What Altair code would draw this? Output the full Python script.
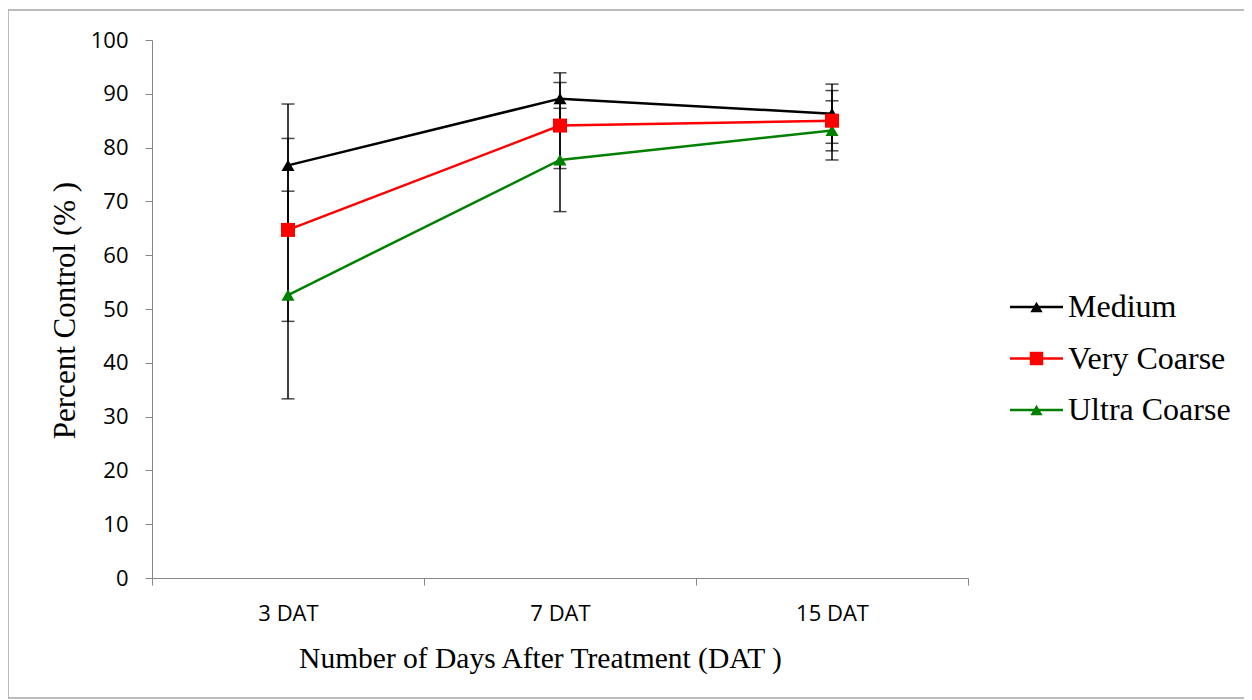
import altair as alt
import pandas as pd

days = ["3 DAT", "7 DAT", "15 DAT"]
series = ["Medium", "Very Coarse", "Ultra Coarse"]
colors = ["#000000", "#ff0000", "#008000"]
medium = [76.7, 89.1, 86.3]
medium_err = [11.4, 4.8, 5.5]
very_coarse = [64.7, 84.1, 85.0]
very_coarse_err = [17.0, 8.0, 5.6]
ultra_coarse = [52.6, 77.7, 83.2]
ultra_coarse_err = [19.3, 9.6, 5.5]

rows = []
for name, vals, errs in [("Medium", medium, medium_err),
                         ("Very Coarse", very_coarse, very_coarse_err),
                         ("Ultra Coarse", ultra_coarse, ultra_coarse_err)]:
    for d, v, e in zip(days, vals, errs):
        rows.append({"day": d, "series": name, "value": v, "lo": v - e, "hi": v + e})
df = pd.DataFrame(rows)
leg_df = pd.DataFrame({"series": series})

W, H = 816, 538
AX = "#868686"
TICKFONT = "Open Sans"
SERIF = "Liberation Serif"

xenc = alt.X("day:N", sort=days, bandPosition=0.5,
             scale=alt.Scale(type="band", paddingInner=0, paddingOuter=0),
             axis=alt.Axis(title="Number of Days After Treatment (DAT )", tickBand="extent",
                           labelAngle=0, domainColor=AX, tickColor=AX, tickSize=7,
                           labelFont=TICKFONT, labelFontSize=22, labelColor="#000",
                           labelPadding=18, titleFont=SERIF, titleFontSize=29.5,
                           titleFontWeight="normal", titleColor="#000",
                           titleX=388, titleY=80, titleBaseline="middle", grid=False))
yscale = alt.Scale(domain=[0, 100], nice=False, zero=True)
yaxis = alt.Axis(title="Percent Control (% )", values=list(range(0, 101, 10)),
                 domainColor=AX, tickColor=AX, tickSize=7, labelFont=TICKFONT,
                 labelFontSize=22, labelColor="#000", labelPadding=17,
                 titleFont=SERIF, titleFontSize=31, titleFontWeight="normal",
                 titleColor="#000", titleX=-87, titleY=270, titleBaseline="middle",
                 grid=False)

cscale = alt.Scale(domain=series, range=colors)
color = alt.Color("series:N", sort=series, scale=cscale, legend=None)
xc = alt.X("day:N", sort=days, bandPosition=0.5)


def yq(field):
    return alt.Y(field, type="quantitative", scale=yscale, axis=None)


base = alt.Chart(df)

err_rule = base.mark_rule(color="black", strokeWidth=1.5).encode(
    x=xenc, y=alt.Y("lo:Q", scale=yscale, axis=yaxis), y2="hi:Q")
cap_lo = base.mark_tick(color="black", thickness=1.5, size=13, orient="horizontal").encode(
    x=xc, y=yq("lo"))
cap_hi = base.mark_tick(color="black", thickness=1.5, size=13, orient="horizontal").encode(
    x=xc, y=yq("hi"))

lines = base.mark_line(strokeWidth=2.5).encode(
    x=xc, y=yq("value"), color=color, detail="series:N")

tri_points = base.transform_filter(alt.datum.series != "Very Coarse").mark_point(
    filled=True, opacity=1, size=170, shape="triangle-up").encode(
    x=xc, y=yq("value"), color=color)
sq_points = base.transform_filter(alt.datum.series == "Very Coarse").mark_point(
    filled=True, opacity=1, size=196, shape="square").encode(
    x=xc, y=yq("value"), color=color)

# legend (right of the plot), rows placed by a point scale over the series
leg_y = alt.Y("series:N", sort=series, axis=None,
              scale=alt.Scale(type="point", domain=series, range=[267, 370], padding=0))
lbase = alt.Chart(leg_df)
leg_line = lbase.mark_rule(strokeWidth=2.5).encode(
    x=alt.value(858), x2=alt.value(911), y=leg_y, color=color)
leg_tri = lbase.transform_filter(alt.datum.series != "Very Coarse").mark_point(
    filled=True, opacity=1, size=150, shape="triangle-up").encode(
    x=alt.value(884.5), y=leg_y, color=color)
leg_sq = lbase.transform_filter(alt.datum.series == "Very Coarse").mark_point(
    filled=True, opacity=1, size=180, shape="square").encode(
    x=alt.value(884.5), y=leg_y, color=color)
leg_text = lbase.mark_text(align="left", baseline="middle", font=SERIF, fontSize=32,
                           color="#000").encode(
    x=alt.value(916), y=leg_y, text="series:N")

frame = alt.Chart(pd.DataFrame({"k": [0]})).mark_rect(
    fill="transparent", stroke="#a6a6a6", strokeWidth=1.5).encode(
    x=alt.value(-144), x2=alt.value(1098), y=alt.value(-30), y2=alt.value(658))

chart = alt.layer(frame, err_rule, cap_lo, cap_hi, lines, tri_points, sq_points,
                  leg_line, leg_tri, leg_sq, leg_text).resolve_scale(
    y="independent"
).properties(
    width=W, height=H,
    background="white",
    view=alt.ViewBackground(stroke="transparent", strokeWidth=0),
    autosize=alt.AutoSizeParams(type="none"),
    padding={"left": 144, "top": 32, "right": 276, "bottom": 122},
).configure_view(stroke="transparent", strokeWidth=0)

chart.save("out.html", embed_options={"renderer": "svg", "actions": False})
